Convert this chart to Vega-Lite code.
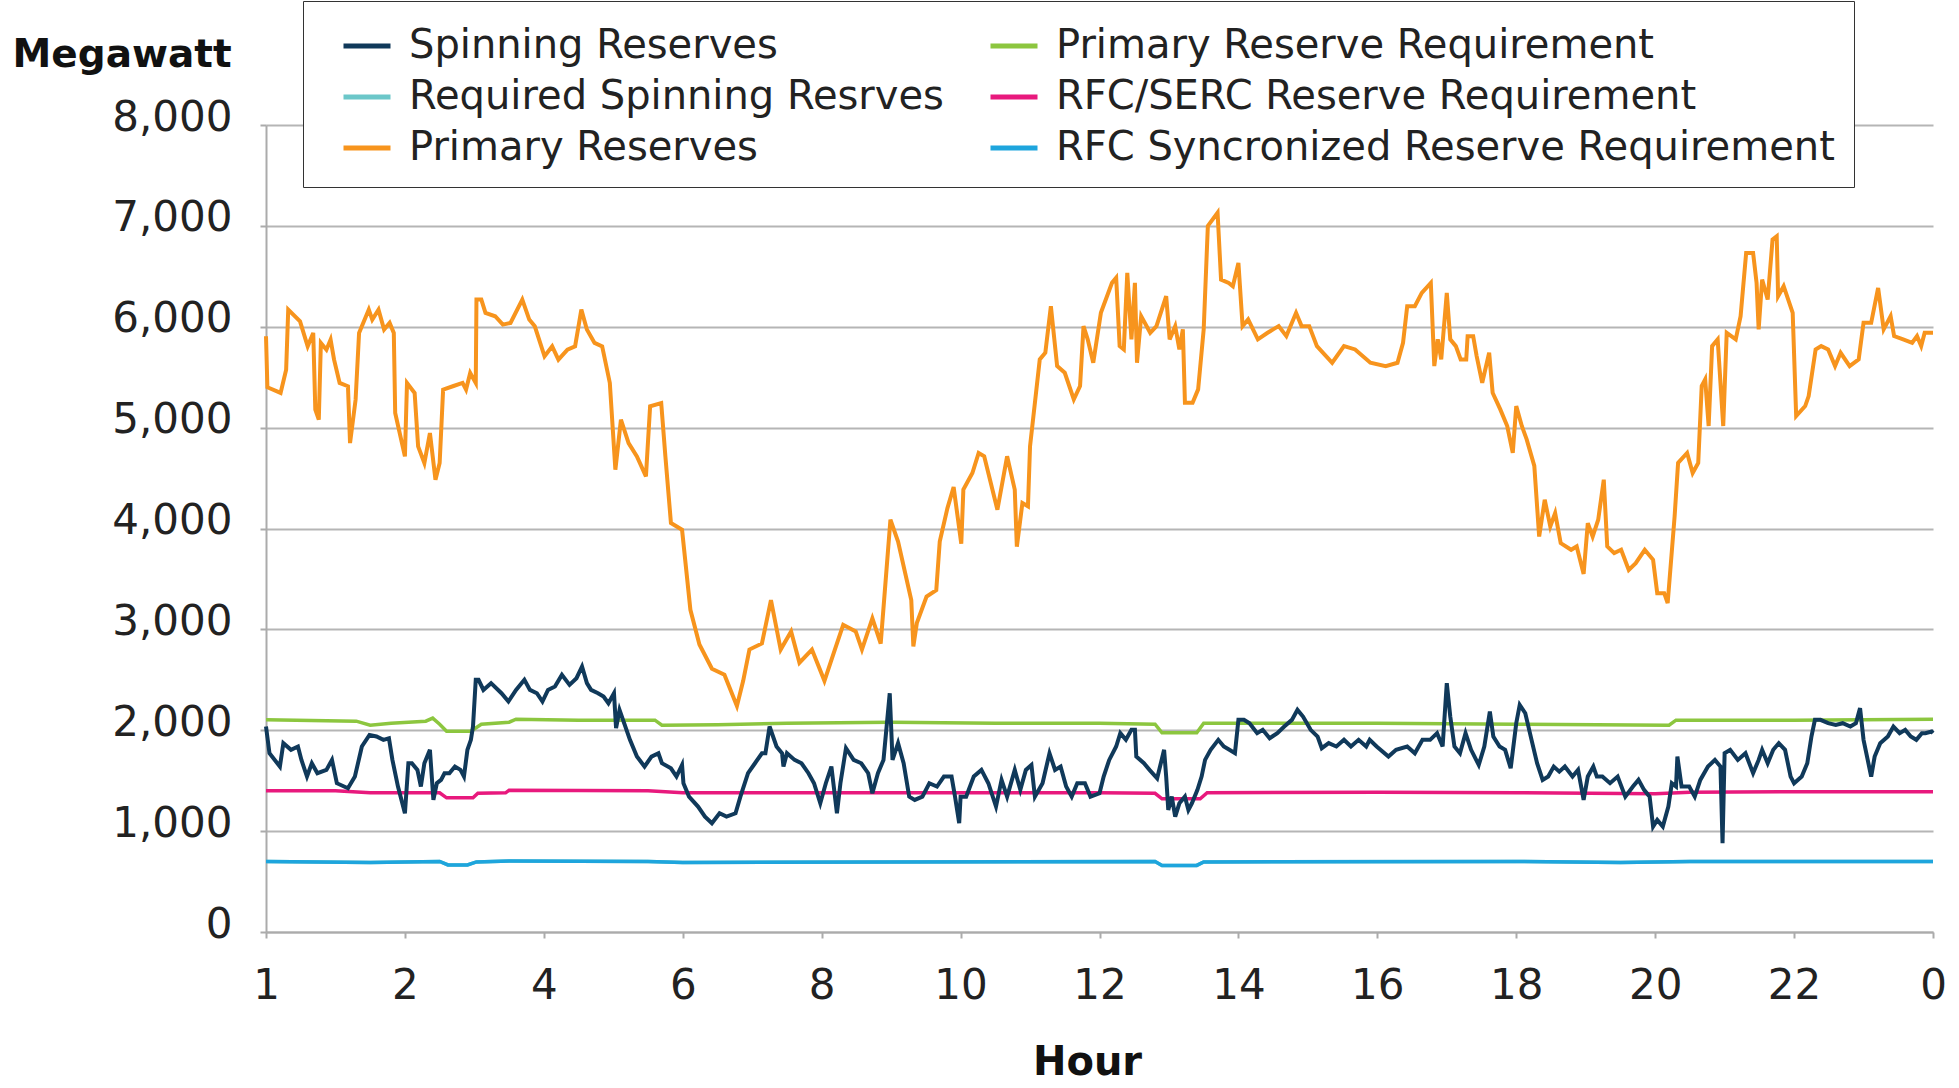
{
"$schema": "https://vega.github.io/schema/vega-lite/v6.json",
"width": 1667, "height": 807,
"autosize": "none",
"padding": {"left": 266, "top": 125, "right": 26, "bottom": 156},
"background": "white",
"config": {"view": {"stroke": null}, "font": "DejaVu Sans"},
"data": {"values": [
{"s":"T","h":0,"v":700},{"s":"T","h":1.5,"v":690},{"s":"T","h":2.5,"v":700},{"s":"T","h":2.62,"v":665},{"s":"T","h":2.9,"v":665},{"s":"T","h":3.03,"v":695},{"s":"T","h":3.5,"v":705},{"s":"T","h":5.5,"v":700},{"s":"T","h":6,"v":690},{"s":"T","h":12.8,"v":700},{"s":"T","h":12.9,"v":660},{"s":"T","h":13.4,"v":660},{"s":"T","h":13.5,"v":695},{"s":"T","h":18,"v":700},{"s":"T","h":19.5,"v":690},{"s":"T","h":20.5,"v":700},{"s":"T","h":24,"v":700},
{"s":"B","h":0,"v":700},{"s":"B","h":1.5,"v":690},{"s":"B","h":2.5,"v":700},{"s":"B","h":2.62,"v":665},{"s":"B","h":2.9,"v":665},{"s":"B","h":3.03,"v":695},{"s":"B","h":3.5,"v":705},{"s":"B","h":5.5,"v":700},{"s":"B","h":6,"v":690},{"s":"B","h":12.8,"v":700},{"s":"B","h":12.9,"v":660},{"s":"B","h":13.4,"v":660},{"s":"B","h":13.5,"v":695},{"s":"B","h":18,"v":700},{"s":"B","h":19.5,"v":690},{"s":"B","h":20.5,"v":700},{"s":"B","h":24,"v":700},
{"s":"R","h":0,"v":1400},{"s":"R","h":1,"v":1400},{"s":"R","h":1.5,"v":1380},{"s":"R","h":2.5,"v":1380},{"s":"R","h":2.6,"v":1330},{"s":"R","h":2.98,"v":1330},{"s":"R","h":3.05,"v":1375},{"s":"R","h":3.45,"v":1380},{"s":"R","h":3.5,"v":1405},{"s":"R","h":5.5,"v":1400},{"s":"R","h":6,"v":1380},{"s":"R","h":9,"v":1380},{"s":"R","h":12,"v":1380},{"s":"R","h":12.8,"v":1375},{"s":"R","h":12.9,"v":1320},{"s":"R","h":13.45,"v":1320},{"s":"R","h":13.55,"v":1380},{"s":"R","h":16,"v":1385},{"s":"R","h":18,"v":1380},{"s":"R","h":20,"v":1370},{"s":"R","h":20.5,"v":1385},{"s":"R","h":22,"v":1390},{"s":"R","h":24,"v":1390},
{"s":"G","h":0,"v":2103},{"s":"G","h":1.3,"v":2090},{"s":"G","h":1.5,"v":2050},{"s":"G","h":1.8,"v":2070},{"s":"G","h":2.3,"v":2090},{"s":"G","h":2.4,"v":2120},{"s":"G","h":2.5,"v":2060},{"s":"G","h":2.6,"v":1990},{"s":"G","h":2.95,"v":1990},{"s":"G","h":3.1,"v":2060},{"s":"G","h":3.5,"v":2080},{"s":"G","h":3.6,"v":2110},{"s":"G","h":4.5,"v":2100},{"s":"G","h":5.6,"v":2100},{"s":"G","h":5.7,"v":2050},{"s":"G","h":6.5,"v":2055},{"s":"G","h":7.5,"v":2070},{"s":"G","h":9,"v":2080},{"s":"G","h":10.5,"v":2070},{"s":"G","h":12,"v":2070},{"s":"G","h":12.8,"v":2060},{"s":"G","h":12.9,"v":1975},{"s":"G","h":13.4,"v":1975},{"s":"G","h":13.5,"v":2070},{"s":"G","h":16,"v":2070},{"s":"G","h":18,"v":2060},{"s":"G","h":20.2,"v":2050},{"s":"G","h":20.3,"v":2100},{"s":"G","h":22,"v":2100},{"s":"G","h":24,"v":2110},
{"s":"P","h":0,"v":5906},{"s":"P","h":0.02,"v":5400},{"s":"P","h":0.21,"v":5344},{"s":"P","h":0.29,"v":5575},{"s":"P","h":0.32,"v":6170},{"s":"P","h":0.49,"v":6054},{"s":"P","h":0.6,"v":5806},{"s":"P","h":0.68,"v":5939},{"s":"P","h":0.71,"v":5178},{"s":"P","h":0.76,"v":5079},{"s":"P","h":0.79,"v":5840},{"s":"P","h":0.87,"v":5773},{"s":"P","h":0.93,"v":5873},{"s":"P","h":0.98,"v":5674},{"s":"P","h":1.06,"v":5443},{"s":"P","h":1.18,"v":5410},{"s":"P","h":1.21,"v":4847},{"s":"P","h":1.29,"v":5277},{"s":"P","h":1.34,"v":5939},{"s":"P","h":1.48,"v":6170},{"s":"P","h":1.53,"v":6071},{"s":"P","h":1.62,"v":6170},{"s":"P","h":1.7,"v":5972},{"s":"P","h":1.78,"v":6038},{"s":"P","h":1.84,"v":5939},{"s":"P","h":1.86,"v":5145},{"s":"P","h":2,"v":4715},{"s":"P","h":2.03,"v":5443},{"s":"P","h":2.14,"v":5344},{"s":"P","h":2.19,"v":4814},{"s":"P","h":2.28,"v":4649},{"s":"P","h":2.36,"v":4946},{"s":"P","h":2.44,"v":4484},{"s":"P","h":2.5,"v":4649},{"s":"P","h":2.55,"v":5377},{"s":"P","h":2.69,"v":5410},{"s":"P","h":2.83,"v":5443},{"s":"P","h":2.88,"v":5377},{"s":"P","h":2.94,"v":5542},{"s":"P","h":3.02,"v":5443},{"s":"P","h":3.03,"v":6269},{"s":"P","h":3.1,"v":6269},{"s":"P","h":3.16,"v":6137},{"s":"P","h":3.3,"v":6104},{"s":"P","h":3.41,"v":6021},{"s":"P","h":3.52,"v":6038},{"s":"P","h":3.69,"v":6269},{"s":"P","h":3.79,"v":6071},{"s":"P","h":3.87,"v":6004},{"s":"P","h":4.01,"v":5707},{"s":"P","h":4.12,"v":5806},{"s":"P","h":4.21,"v":5674},{"s":"P","h":4.34,"v":5773},{"s":"P","h":4.45,"v":5806},{"s":"P","h":4.54,"v":6170},{"s":"P","h":4.62,"v":5972},{"s":"P","h":4.73,"v":5840},{"s":"P","h":4.84,"v":5806},{"s":"P","h":4.95,"v":5443},{"s":"P","h":5.03,"v":4583},{"s":"P","h":5.11,"v":5079},{"s":"P","h":5.22,"v":4847},{"s":"P","h":5.34,"v":4715},{"s":"P","h":5.47,"v":4517},{"s":"P","h":5.53,"v":5211},{"s":"P","h":5.69,"v":5244},{"s":"P","h":5.75,"v":4715},{"s":"P","h":5.83,"v":4054},{"s":"P","h":5.99,"v":3988},{"s":"P","h":6.11,"v":3194},{"s":"P","h":6.24,"v":2850},
{"s":"P","h":6.42,"v":2610},{"s":"P","h":6.6,"v":2550},{"s":"P","h":6.78,"v":2240},{"s":"P","h":6.87,"v":2490},{"s":"P","h":6.96,"v":2800},{"s":"P","h":7.14,"v":2860},{"s":"P","h":7.27,"v":3290},{"s":"P","h":7.41,"v":2800},{"s":"P","h":7.56,"v":2980},{"s":"P","h":7.68,"v":2670},{"s":"P","h":7.86,"v":2800},{"s":"P","h":8.04,"v":2490},{"s":"P","h":8.19,"v":2800},{"s":"P","h":8.31,"v":3045},{"s":"P","h":8.49,"v":2980},{"s":"P","h":8.58,"v":2800},{"s":"P","h":8.73,"v":3110},{"s":"P","h":8.85,"v":2860},
{"s":"P","h":8.99,"v":4087},{"s":"P","h":9.1,"v":3870},{"s":"P","h":9.29,"v":3290},{"s":"P","h":9.32,"v":2830},{"s":"P","h":9.37,"v":3062},{"s":"P","h":9.51,"v":3325},{"s":"P","h":9.65,"v":3390},{"s":"P","h":9.7,"v":3870},{"s":"P","h":9.81,"v":4200},{"s":"P","h":9.9,"v":4410},{"s":"P","h":10.01,"v":3850},{"s":"P","h":10.04,"v":4385},{"s":"P","h":10.17,"v":4550},{"s":"P","h":10.26,"v":4749},{"s":"P","h":10.34,"v":4716},{"s":"P","h":10.53,"v":4186},{"s":"P","h":10.67,"v":4716},{"s":"P","h":10.78,"v":4385},{"s":"P","h":10.81,"v":3820},{"s":"P","h":10.89,"v":4252},{"s":"P","h":10.97,"v":4220},{"s":"P","h":11,"v":4815},{"s":"P","h":11.14,"v":5676},{"s":"P","h":11.22,"v":5742},{"s":"P","h":11.3,"v":6204},{"s":"P","h":11.39,"v":5610},{"s":"P","h":11.5,"v":5544},{"s":"P","h":11.63,"v":5280},{"s":"P","h":11.72,"v":5412},{"s":"P","h":11.77,"v":6006},{"s":"P","h":11.83,"v":5875},{"s":"P","h":11.91,"v":5643},{"s":"P","h":12.02,"v":6138},{"s":"P","h":12.18,"v":6435},{"s":"P","h":12.24,"v":6485},{"s":"P","h":12.29,"v":5808},{"s":"P","h":12.35,"v":5775},{"s":"P","h":12.4,"v":6534},{"s":"P","h":12.46,"v":5875},{"s":"P","h":12.51,"v":6435},{"s":"P","h":12.54,"v":5643},{"s":"P","h":12.6,"v":6105},{"s":"P","h":12.73,"v":5940},{"s":"P","h":12.82,"v":6006},{"s":"P","h":12.96,"v":6303},{"s":"P","h":13.01,"v":5875},{"s":"P","h":13.09,"v":6006},{"s":"P","h":13.15,"v":5775},{"s":"P","h":13.2,"v":5974},{"s":"P","h":13.23,"v":5247},{"s":"P","h":13.34,"v":5247},{"s":"P","h":13.42,"v":5379},{"s":"P","h":13.5,"v":5974},{"s":"P","h":13.56,"v":7000},{"s":"P","h":13.7,"v":7130},{"s":"P","h":13.75,"v":6468},{"s":"P","h":13.86,"v":6435},{"s":"P","h":13.92,"v":6402},{"s":"P","h":14,"v":6633},{"s":"P","h":14.06,"v":6006},{"s":"P","h":14.14,"v":6072},{"s":"P","h":14.28,"v":5875},{"s":"P","h":14.42,"v":5940},{"s":"P","h":14.5,"v":5974},{"s":"P","h":14.58,"v":6006},{"s":"P","h":14.69,"v":5907},{"s":"P","h":14.83,"v":6138},{"s":"P","h":14.91,"v":6006},{"s":"P","h":15.02,"v":6006},{"s":"P","h":15.13,"v":5808},{"s":"P","h":15.35,"v":5643},{"s":"P","h":15.52,"v":5808},{"s":"P","h":15.68,"v":5775},{"s":"P","h":15.9,"v":5643},{"s":"P","h":16.12,"v":5610},{"s":"P","h":16.29,"v":5643},
{"s":"P","h":16.37,"v":5841},{"s":"P","h":16.43,"v":6204},{"s":"P","h":16.54,"v":6204},{"s":"P","h":16.64,"v":6336},{"s":"P","h":16.77,"v":6435},{"s":"P","h":16.82,"v":5610},{"s":"P","h":16.87,"v":5875},{"s":"P","h":16.92,"v":5676},{"s":"P","h":17,"v":6336},{"s":"P","h":17.05,"v":5875},{"s":"P","h":17.13,"v":5808},{"s":"P","h":17.2,"v":5676},{"s":"P","h":17.28,"v":5676},{"s":"P","h":17.3,"v":5907},{"s":"P","h":17.38,"v":5907},{"s":"P","h":17.43,"v":5709},{"s":"P","h":17.51,"v":5445},{"s":"P","h":17.61,"v":5742},{"s":"P","h":17.66,"v":5346},{"s":"P","h":17.77,"v":5181},{"s":"P","h":17.87,"v":5016},{"s":"P","h":17.95,"v":4749},{"s":"P","h":18,"v":5214},{"s":"P","h":18.08,"v":5016},{"s":"P","h":18.15,"v":4884},{"s":"P","h":18.26,"v":4620},{"s":"P","h":18.33,"v":3920},{"s":"P","h":18.41,"v":4285},{"s":"P","h":18.49,"v":4020},{"s":"P","h":18.56,"v":4153},{"s":"P","h":18.64,"v":3855},{"s":"P","h":18.79,"v":3789},{"s":"P","h":18.87,"v":3822},{"s":"P","h":18.97,"v":3550},{"s":"P","h":19.03,"v":4054},{"s":"P","h":19.1,"v":3920},{"s":"P","h":19.18,"v":4087},{"s":"P","h":19.26,"v":4484},{"s":"P","h":19.31,"v":3822},{"s":"P","h":19.41,"v":3756},{"s":"P","h":19.51,"v":3789},{"s":"P","h":19.62,"v":3590},{"s":"P","h":19.72,"v":3656},{"s":"P","h":19.85,"v":3789},{"s":"P","h":19.97,"v":3690},{"s":"P","h":20.03,"v":3359},{"s":"P","h":20.13,"v":3359},{"s":"P","h":20.18,"v":3260},{"s":"P","h":20.28,"v":4120},{"s":"P","h":20.33,"v":4650},{"s":"P","h":20.46,"v":4749},{"s":"P","h":20.54,"v":4550},{"s":"P","h":20.62,"v":4650},{"s":"P","h":20.67,"v":5412},{"s":"P","h":20.72,"v":5478},{"s":"P","h":20.77,"v":5016},{"s":"P","h":20.82,"v":5808},{"s":"P","h":20.9,"v":5875},{"s":"P","h":20.98,"v":5016},{"s":"P","h":21.03,"v":5940},{"s":"P","h":21.16,"v":5875},{"s":"P","h":21.23,"v":6105},{"s":"P","h":21.31,"v":6732},{"s":"P","h":21.41,"v":6732},{"s":"P","h":21.46,"v":6435},{"s":"P","h":21.49,"v":5974},{"s":"P","h":21.54,"v":6468},{"s":"P","h":21.62,"v":6270},{"s":"P","h":21.69,"v":6864},{"s":"P","h":21.75,"v":6897},{"s":"P","h":21.77,"v":6303},{"s":"P","h":21.85,"v":6402},{"s":"P","h":21.98,"v":6138},{"s":"P","h":22.03,"v":5115},{"s":"P","h":22.16,"v":5214},{"s":"P","h":22.21,"v":5313},{"s":"P","h":22.31,"v":5775},{"s":"P","h":22.39,"v":5808},{"s":"P","h":22.49,"v":5775},{"s":"P","h":22.59,"v":5610},{"s":"P","h":22.67,"v":5742},{"s":"P","h":22.8,"v":5610},{"s":"P","h":22.93,"v":5676},{"s":"P","h":23,"v":6039},{"s":"P","h":23.11,"v":6039},{"s":"P","h":23.21,"v":6385},{"s":"P","h":23.29,"v":5974},{"s":"P","h":23.39,"v":6105},{"s":"P","h":23.44,"v":5907},{"s":"P","h":23.57,"v":5875},{"s":"P","h":23.7,"v":5841},{"s":"P","h":23.77,"v":5907},{"s":"P","h":23.83,"v":5808},{"s":"P","h":23.88,"v":5940},{"s":"P","h":24,"v":5940},
{"s":"S","h":0,"v":2037},{"s":"S","h":0.05,"v":1772},{"s":"S","h":0.2,"v":1640},{"s":"S","h":0.25,"v":1872},{"s":"S","h":0.36,"v":1806},{"s":"S","h":0.46,"v":1839},{"s":"S","h":0.51,"v":1706},{"s":"S","h":0.59,"v":1541},{"s":"S","h":0.66,"v":1673},{"s":"S","h":0.74,"v":1574},{"s":"S","h":0.87,"v":1607},{"s":"S","h":0.95,"v":1706},{"s":"S","h":1.02,"v":1475},{"s":"S","h":1.18,"v":1425},{"s":"S","h":1.28,"v":1541},{"s":"S","h":1.38,"v":1839},{"s":"S","h":1.49,"v":1954},{"s":"S","h":1.59,"v":1938},{"s":"S","h":1.69,"v":1905},{"s":"S","h":1.77,"v":1921},{"s":"S","h":1.82,"v":1706},{"s":"S","h":1.9,"v":1442},{"s":"S","h":2,"v":1177},{"s":"S","h":2.05,"v":1673},{"s":"S","h":2.1,"v":1673},{"s":"S","h":2.18,"v":1607},{"s":"S","h":2.23,"v":1442},{"s":"S","h":2.28,"v":1673},{"s":"S","h":2.36,"v":1806},{"s":"S","h":2.41,"v":1309},{"s":"S","h":2.46,"v":1475},{"s":"S","h":2.52,"v":1508},{"s":"S","h":2.57,"v":1574},{"s":"S","h":2.64,"v":1574},{"s":"S","h":2.72,"v":1640},{"s":"S","h":2.8,"v":1607},{"s":"S","h":2.85,"v":1541},{"s":"S","h":2.9,"v":1806},{"s":"S","h":2.95,"v":1905},{"s":"S","h":2.98,"v":2037},{"s":"S","h":3.02,"v":2500},{"s":"S","h":3.06,"v":2500},{"s":"S","h":3.13,"v":2400},{"s":"S","h":3.24,"v":2467},{"s":"S","h":3.39,"v":2367},{"s":"S","h":3.49,"v":2285},{"s":"S","h":3.6,"v":2400},{"s":"S","h":3.72,"v":2500},{"s":"S","h":3.8,"v":2400},{"s":"S","h":3.9,"v":2367},{"s":"S","h":3.98,"v":2285},{"s":"S","h":4.06,"v":2400},{"s":"S","h":4.16,"v":2434},{"s":"S","h":4.26,"v":2549},{"s":"S","h":4.37,"v":2450},{"s":"S","h":4.47,"v":2516},{"s":"S","h":4.55,"v":2632},{"s":"S","h":4.62,"v":2467},{"s":"S","h":4.68,"v":2400},{"s":"S","h":4.78,"v":2367},{"s":"S","h":4.86,"v":2334},{"s":"S","h":4.93,"v":2268},{"s":"S","h":5.01,"v":2367},{"s":"S","h":5.04,"v":2020},{"s":"S","h":5.09,"v":2202},{"s":"S","h":5.14,"v":2103},{"s":"S","h":5.24,"v":1905},{"s":"S","h":5.34,"v":1739},{"s":"S","h":5.45,"v":1640},{"s":"S","h":5.55,"v":1739},{"s":"S","h":5.65,"v":1772},{"s":"S","h":5.7,"v":1673},{"s":"S","h":5.83,"v":1623},{"s":"S","h":5.91,"v":1541},{"s":"S","h":5.99,"v":1656},{"s":"S","h":6.01,"v":1475},{"s":"S","h":6.09,"v":1342},{"s":"S","h":6.22,"v":1243},{"s":"S","h":6.32,"v":1144},{"s":"S","h":6.42,"v":1078},{"s":"S","h":6.53,"v":1177},{"s":"S","h":6.63,"v":1144},{"s":"S","h":6.76,"v":1177},{"s":"S","h":6.83,"v":1342},{"s":"S","h":6.94,"v":1574},{"s":"S","h":7.04,"v":1673},{"s":"S","h":7.14,"v":1772},{"s":"S","h":7.19,"v":1772},{"s":"S","h":7.25,"v":2037},{"s":"S","h":7.35,"v":1839},{"s":"S","h":7.43,"v":1772},{"s":"S","h":7.45,"v":1640},{"s":"S","h":7.5,"v":1772},{"s":"S","h":7.61,"v":1706},{"s":"S","h":7.71,"v":1673},{"s":"S","h":7.81,"v":1574},{"s":"S","h":7.89,"v":1475},
{"s":"S","h":7.98,"v":1276},{"s":"S","h":8.06,"v":1475},{"s":"S","h":8.14,"v":1640},{"s":"S","h":8.22,"v":1177},{"s":"S","h":8.27,"v":1475},{"s":"S","h":8.35,"v":1822},{"s":"S","h":8.46,"v":1706},{"s":"S","h":8.57,"v":1673},{"s":"S","h":8.67,"v":1574},{"s":"S","h":8.73,"v":1375},{"s":"S","h":8.81,"v":1574},{"s":"S","h":8.89,"v":1706},{"s":"S","h":8.98,"v":2367},{"s":"S","h":9.02,"v":1706},{"s":"S","h":9.1,"v":1872},{"s":"S","h":9.18,"v":1673},{"s":"S","h":9.26,"v":1342},{"s":"S","h":9.34,"v":1309},{"s":"S","h":9.45,"v":1342},{"s":"S","h":9.55,"v":1475},{"s":"S","h":9.66,"v":1442},{"s":"S","h":9.76,"v":1541},{"s":"S","h":9.87,"v":1541},{"s":"S","h":9.92,"v":1342},{"s":"S","h":9.98,"v":1078},{"s":"S","h":10,"v":1342},{"s":"S","h":10.08,"v":1342},{"s":"S","h":10.19,"v":1541},{"s":"S","h":10.3,"v":1607},{"s":"S","h":10.4,"v":1475},{"s":"S","h":10.51,"v":1243},{"s":"S","h":10.59,"v":1508},{"s":"S","h":10.67,"v":1342},{"s":"S","h":10.78,"v":1607},{"s":"S","h":10.86,"v":1409},{"s":"S","h":10.94,"v":1607},{"s":"S","h":11.02,"v":1656},{"s":"S","h":11.07,"v":1342},{"s":"S","h":11.18,"v":1475},{"s":"S","h":11.28,"v":1772},{"s":"S","h":11.36,"v":1607},{"s":"S","h":11.44,"v":1640},{"s":"S","h":11.52,"v":1442},{"s":"S","h":11.6,"v":1342},{"s":"S","h":11.68,"v":1475},{"s":"S","h":11.79,"v":1475},{"s":"S","h":11.87,"v":1342},{"s":"S","h":12,"v":1375},{"s":"S","h":12.06,"v":1541},{"s":"S","h":12.14,"v":1706},{"s":"S","h":12.24,"v":1839},{"s":"S","h":12.3,"v":1971},{"s":"S","h":12.38,"v":1905},{"s":"S","h":12.46,"v":2004},{"s":"S","h":12.51,"v":2004},{"s":"S","h":12.53,"v":1739},{"s":"S","h":12.64,"v":1673},{"s":"S","h":12.72,"v":1607},{"s":"S","h":12.83,"v":1524},{"s":"S","h":12.93,"v":1806},{"s":"S","h":12.96,"v":1541},{"s":"S","h":12.99,"v":1210},{"s":"S","h":13.04,"v":1342},{"s":"S","h":13.09,"v":1144},{"s":"S","h":13.15,"v":1276},{"s":"S","h":13.23,"v":1342},{"s":"S","h":13.28,"v":1210},{"s":"S","h":13.33,"v":1276},{"s":"S","h":13.41,"v":1409},{"s":"S","h":13.47,"v":1541},{"s":"S","h":13.52,"v":1706},{"s":"S","h":13.6,"v":1806},{"s":"S","h":13.71,"v":1905},{"s":"S","h":13.79,"v":1839},{"s":"S","h":13.87,"v":1806},{"s":"S","h":13.95,"v":1772},{"s":"S","h":14,"v":2103},{"s":"S","h":14.08,"v":2103},{"s":"S","h":14.16,"v":2070},{"s":"S","h":14.27,"v":1971},{"s":"S","h":14.35,"v":2004},{"s":"S","h":14.45,"v":1921},{"s":"S","h":14.56,"v":1971},{"s":"S","h":14.66,"v":2037},{"s":"S","h":14.77,"v":2103},{"s":"S","h":14.85,"v":2202},{"s":"S","h":14.93,"v":2136},{"s":"S","h":15.04,"v":2004},{"s":"S","h":15.14,"v":1938},{"s":"S","h":15.2,"v":1822},{"s":"S","h":15.3,"v":1872},{"s":"S","h":15.41,"v":1839},{"s":"S","h":15.52,"v":1905},{"s":"S","h":15.62,"v":1839},{"s":"S","h":15.73,"v":1905},{"s":"S","h":15.84,"v":1839},
{"s":"S","h":15.89,"v":1905},{"s":"S","h":15.99,"v":1839},{"s":"S","h":16.16,"v":1739},{"s":"S","h":16.27,"v":1806},{"s":"S","h":16.43,"v":1839},{"s":"S","h":16.54,"v":1772},{"s":"S","h":16.65,"v":1905},{"s":"S","h":16.76,"v":1905},{"s":"S","h":16.86,"v":1971},{"s":"S","h":16.94,"v":1839},{"s":"S","h":17,"v":2467},{"s":"S","h":17.05,"v":2136},{"s":"S","h":17.11,"v":1839},{"s":"S","h":17.19,"v":1772},{"s":"S","h":17.27,"v":1971},{"s":"S","h":17.35,"v":1806},{"s":"S","h":17.46,"v":1656},{"s":"S","h":17.54,"v":1839},{"s":"S","h":17.62,"v":2185},{"s":"S","h":17.67,"v":1938},{"s":"S","h":17.76,"v":1839},{"s":"S","h":17.84,"v":1806},{"s":"S","h":17.92,"v":1623},{"s":"S","h":18,"v":2070},{"s":"S","h":18.05,"v":2252},{"s":"S","h":18.13,"v":2169},{"s":"S","h":18.22,"v":1905},{"s":"S","h":18.3,"v":1673},{"s":"S","h":18.38,"v":1508},{"s":"S","h":18.46,"v":1541},{"s":"S","h":18.54,"v":1640},{"s":"S","h":18.62,"v":1590},{"s":"S","h":18.7,"v":1640},{"s":"S","h":18.81,"v":1541},{"s":"S","h":18.89,"v":1607},{"s":"S","h":18.97,"v":1309},{"s":"S","h":19.03,"v":1541},{"s":"S","h":19.11,"v":1640},{"s":"S","h":19.16,"v":1541},{"s":"S","h":19.24,"v":1541},{"s":"S","h":19.35,"v":1475},{"s":"S","h":19.46,"v":1541},{"s":"S","h":19.57,"v":1342},{"s":"S","h":19.68,"v":1442},{"s":"S","h":19.76,"v":1508},{"s":"S","h":19.84,"v":1409},{"s":"S","h":19.92,"v":1342},{"s":"S","h":19.97,"v":1045},{"s":"S","h":20.03,"v":1111},{"s":"S","h":20.11,"v":1045},{"s":"S","h":20.19,"v":1243},{"s":"S","h":20.24,"v":1475},{"s":"S","h":20.3,"v":1442},{"s":"S","h":20.32,"v":1739},{"s":"S","h":20.38,"v":1442},{"s":"S","h":20.49,"v":1442},{"s":"S","h":20.57,"v":1342},{"s":"S","h":20.65,"v":1508},{"s":"S","h":20.76,"v":1640},{"s":"S","h":20.86,"v":1706},{"s":"S","h":20.94,"v":1640},{"s":"S","h":20.97,"v":880},{"s":"S","h":21,"v":1772},{"s":"S","h":21.08,"v":1806},{"s":"S","h":21.19,"v":1706},{"s":"S","h":21.3,"v":1772},{"s":"S","h":21.41,"v":1574},{"s":"S","h":21.49,"v":1706},{"s":"S","h":21.54,"v":1806},{"s":"S","h":21.62,"v":1673},{"s":"S","h":21.7,"v":1806},{"s":"S","h":21.78,"v":1872},{"s":"S","h":21.87,"v":1806},{"s":"S","h":21.95,"v":1541},{"s":"S","h":22,"v":1475},{"s":"S","h":22.11,"v":1541},{"s":"S","h":22.19,"v":1673},{"s":"S","h":22.25,"v":1938},{"s":"S","h":22.3,"v":2103},{"s":"S","h":22.38,"v":2103},{"s":"S","h":22.49,"v":2070},{"s":"S","h":22.6,"v":2053},{"s":"S","h":22.7,"v":2070},{"s":"S","h":22.81,"v":2037},{"s":"S","h":22.89,"v":2070},{"s":"S","h":22.95,"v":2219},{"s":"S","h":23,"v":1905},{"s":"S","h":23.06,"v":1706},{"s":"S","h":23.11,"v":1541},{"s":"S","h":23.16,"v":1739},{"s":"S","h":23.24,"v":1872},{"s":"S","h":23.35,"v":1938},{"s":"S","h":23.43,"v":2037},{"s":"S","h":23.52,"v":1971},{"s":"S","h":23.6,"v":2004},{"s":"S","h":23.68,"v":1938},{"s":"S","h":23.76,"v":1905},{"s":"S","h":23.84,"v":1971},{"s":"S","h":23.89,"v":1971},{"s":"S","h":23.98,"v":1987},{"s":"S","h":24,"v":1971}
]},
"encoding": {
  "x": {"field": "h", "type": "quantitative",
        "scale": {"domain": [0, 24], "nice": false, "zero": false},
        "axis": {"title": "Hour", "values": [0,2,4,6,8,10,12,14,16,18,20,22,24],
                 "labelExpr": "datum.value == 0 ? '1' : (datum.value == 24 ? '0' : datum.label)",
                 "grid": false, "domainColor": "#ababab", "domainWidth": 2,
                 "tickColor": "#ababab", "tickWidth": 2, "tickSize": 6,
                 "labelFont": "DejaVu Sans", "labelFontSize": 42, "labelColor": "#222",
                 "labelPadding": 27, "labelFlush": false, "labelOverlap": false,
                 "titleFont": "DejaVu Sans", "titleFontSize": 40, "titleFontWeight": "bold", "titleColor": "#111",
                 "titleX": 821, "titleY": 130, "titleBaseline": "middle"}},
  "y": {"field": "v", "type": "quantitative",
        "scale": {"domain": [0, 8000], "nice": false},
        "axis": {"title": "Megawatt", "values": [0,1000,2000,3000,4000,5000,6000,7000,8000],
                 "format": ",d", "grid": true, "gridColor": "#b5b5b5", "gridWidth": 2,
                 "domainColor": "#ababab", "domainWidth": 2,
                 "tickColor": "#ababab", "tickWidth": 2, "tickSize": 6,
                 "labelFont": "DejaVu Sans", "labelFontSize": 42, "labelColor": "#222",
                 "labelPadding": 28, "labelOffset": -8,
                 "titleFont": "DejaVu Sans", "titleFontSize": 39, "titleFontWeight": "bold", "titleColor": "#111",
                 "titleAngle": 0, "titleAlign": "left", "titleBaseline": "middle",
                 "titleX": -254, "titleY": -71}},
  "color": {"field": "s", "type": "nominal",
            "scale": {"domain": ["S","T","P","G","R","B"],
                      "range": ["#10395a","#6cc7c9","#f7941d","#8cc63f","#e8197d","#1ea5dd"]},
            "legend": {"title": null, "orient": "none", "legendX": 37, "legendY": -124,
                       "columns": 2, "symbolType": "stroke", "symbolSize": 2209, "symbolStrokeWidth": 5,
                       "symbolOffset": 19, "labelOffset": 16, "labelFont": "DejaVu Sans", "labelFontSize": 40,
                       "labelColor": "#222", "labelLimit": 0, "rowPadding": 5, "columnPadding": 25,
                       "padding": 19, "strokeColor": "#333", "fillColor": "white",
                       "labelExpr": "datum.value == 'S' ? 'Spinning Reserves' : datum.value == 'G' ? 'Primary Reserve Requirement' : datum.value == 'T' ? 'Required Spinning Resrves' : datum.value == 'R' ? 'RFC/SERC Reserve Requirement' : datum.value == 'P' ? 'Primary Reserves' : 'RFC Syncronized Reserve Requirement'"}}
},
"layer": [
  {"transform": [{"filter": "datum.s == 'T'"}], "mark": {"type": "line", "strokeWidth": 3.5}},
  {"transform": [{"filter": "datum.s == 'B'"}], "mark": {"type": "line", "strokeWidth": 3.5}},
  {"transform": [{"filter": "datum.s == 'R'"}], "mark": {"type": "line", "strokeWidth": 3.5}},
  {"transform": [{"filter": "datum.s == 'G'"}], "mark": {"type": "line", "strokeWidth": 3.5}},
  {"transform": [{"filter": "datum.s == 'P'"}], "mark": {"type": "line", "strokeWidth": 4}},
  {"transform": [{"filter": "datum.s == 'S'"}], "mark": {"type": "line", "strokeWidth": 4}}
]
}
